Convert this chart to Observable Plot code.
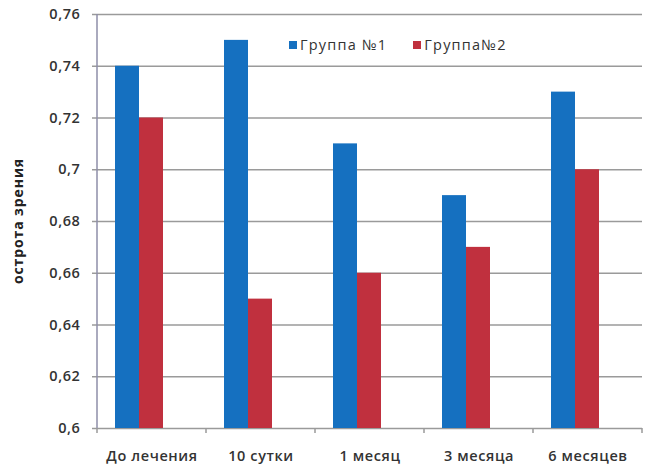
<!DOCTYPE html>
<html>
<head>
<meta charset="utf-8">
<script src="https://cdn.jsdelivr.net/npm/d3@7"></script>
<script src="https://cdn.jsdelivr.net/npm/@observablehq/plot@0.6"></script>
<style>
  body { margin: 0; background: #fff; }
  #wrap { position: relative; width: 655px; height: 476px; font-family: "Open Sans", sans-serif; }
  #legend { position: absolute; left: 289px; top: 35px; display: flex; gap: 26px; font-size: 14.5px; letter-spacing: 1.2px; color: #333; }
  #legend span.sw { display: inline-block; width: 8px; height: 8px; margin-right: 3px; vertical-align: 1px; }
</style>
</head>
<body>
<div id="wrap"></div>
<script>
const categories = ["До лечения", "10 сутки", "1 месяц", "3 месяца", "6 месяцев"];
const seriesNames = ["Группа №1", "Группа№2"];
const group1 = [0.74, 0.75, 0.71, 0.69, 0.73];
const group2 = [0.72, 0.65, 0.66, 0.67, 0.70];
const yTicks = [0.6, 0.62, 0.64, 0.66, 0.68, 0.7, 0.72, 0.74, 0.76];
const yDomain = [0.6, 0.76];
const yLabel = "острота зрения";
const colors = ["#1570c0", "#c0303e"];

const data = [];
categories.forEach((c, i) => {
  data.push({category: c, series: seriesNames[0], value: group1[i]});
  data.push({category: c, series: seriesNames[1], value: group2[i]});
});

const fmt = d => String(d).replace(".", ",");

const plot = Plot.plot({
  width: 655,
  height: 476,
  marginLeft: 95,
  marginRight: 11,
  marginTop: 14,
  marginBottom: 48,
  style: {fontFamily: "'Open Sans', sans-serif", fontSize: "14.5px", fontWeight: 600, color: "#333", background: "#fff", letterSpacing: "0.6px"},
  fx: {domain: categories, paddingInner: 0, paddingOuter: 0, label: null, tickSize: 0, tickPadding: 22},
  x: {domain: seriesNames, paddingInner: 0, paddingOuter: 1.2, align: 0.3, axis: null},
  y: {domain: yDomain, ticks: yTicks, tickFormat: fmt, tickSize: 5, tickPadding: 12, label: null},
  color: {domain: seriesNames, range: colors},
  marks: [
    Plot.ruleY(yTicks, {stroke: "#9a9a9a", strokeWidth: 1.5}),
    Plot.barY(data, {fx: "category", x: "series", y1: yDomain[0], y2: "value", fill: "series"})
  ]
});

const svg = d3.select(plot);
const ys = plot.scale("y");
const fxs = plot.scale("fx");
const x0 = fxs.apply(categories[0]);
const step = fxs.step;
const yTop = ys.apply(yDomain[1]);
const yBot = ys.apply(yDomain[0]);

// y axis line
svg.append("line").attr("x1", x0).attr("x2", x0).attr("y1", yTop).attr("y2", yBot)
  .attr("stroke", "#8e8ea8").attr("stroke-width", 1.5);
// bottom category ticks
for (let i = 0; i <= categories.length; i++) {
  const xx = x0 + step * i;
  svg.append("line").attr("x1", xx).attr("x2", xx).attr("y1", yBot).attr("y2", yBot + 5)
    .attr("stroke", "#9a9a9a").attr("stroke-width", 1.5);
}
// y label
svg.append("text")
  .attr("transform", `translate(23,${(yTop + yBot) / 2}) rotate(-90)`)
  .attr("text-anchor", "middle")
  .attr("font-weight", 700)
  .attr("font-size", 14)
  .attr("letter-spacing", "0.9px")
  .attr("fill", "#222")
  .text(yLabel);
svg.selectAll("g[aria-label='y-axis'] line, g[aria-label='y-axis tick'] path").attr("stroke", "#9a9a9a").attr("stroke-width", 1.5);

const wrap = document.getElementById("wrap");
wrap.appendChild(plot);
const legend = document.createElement("div");
legend.id = "legend";
seriesNames.forEach((s, i) => {
  const item = document.createElement("div");
  item.innerHTML = `<span class="sw" style="background:${colors[i]}"></span>${s}`;
  legend.appendChild(item);
});
wrap.appendChild(legend);
</script>
</body>
</html>
